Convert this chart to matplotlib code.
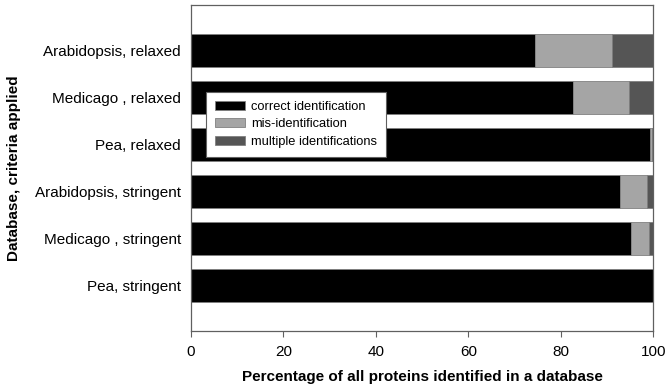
import numpy as np
import matplotlib.pyplot as plt

plt.rcParams['font.family'] = ['Liberation Sans', 'DejaVu Sans']

# Daten (Prozent)
labels = ['Arabidopsis, relaxed', 'Medicago , relaxed', 'Pea, relaxed',
          'Arabidopsis, stringent', 'Medicago , stringent', 'Pea, stringent']
correct = [74.5, 82.6, 99.2, 92.7, 95.1, 100.0]
misident = [16.6, 12.1, 0.5, 6.0, 3.9, 0.0]
multiple = [8.9, 5.3, 0.3, 1.3, 1.0, 0.0]

series = ['correct identification', 'mis-identification', 'multiple identifications']
colors = ['#000000', '#a5a5a5', '#555555']

fig = plt.figure(figsize=(6.67, 3.9), dpi=100)
ax = fig.add_axes([0.286, 0.152, 0.6935, 0.834])

y = np.arange(len(labels))
left = np.zeros(len(labels))
for vals, name, c in zip([correct, misident, multiple], series, colors):
    ax.barh(y, vals, left=left, height=0.705, color=c, edgecolor='#808080',
            linewidth=0.6, label=name)
    left = left + np.array(vals)

ax.set_xlim(0, 100)
ax.set_ylim(5.97, -0.97)
ax.set_yticks(y)
ax.set_yticklabels(labels, fontsize=11)
ax.tick_params(axis='y', length=0, pad=7)
ax.tick_params(axis='x', labelsize=11, length=4, direction='out', color='#606060', pad=6)
ax.set_xticks([0, 20, 40, 60, 80, 100])

for s in ax.spines.values():
    s.set_color('#606060')
    s.set_linewidth(0.9)

ax.set_xlabel('Percentage of all proteins identified in a database', fontsize=11,
              fontweight='bold', labelpad=8)
ax.set_ylabel('Database, criteria applied', fontsize=11, fontweight='bold', labelpad=10)

leg = ax.legend(loc='upper left', bbox_to_anchor=(0.033, 0.7345), fontsize=9.3,
                frameon=True, fancybox=False, handlelength=2.3, handleheight=0.7,
                borderpad=0.7, labelspacing=0.42, handletextpad=0.5,
                borderaxespad=0)
leg.get_frame().set_edgecolor('#606060')
leg.get_frame().set_linewidth(0.8)
leg.get_frame().set_alpha(1)

fig.savefig('out.png', dpi=100)
